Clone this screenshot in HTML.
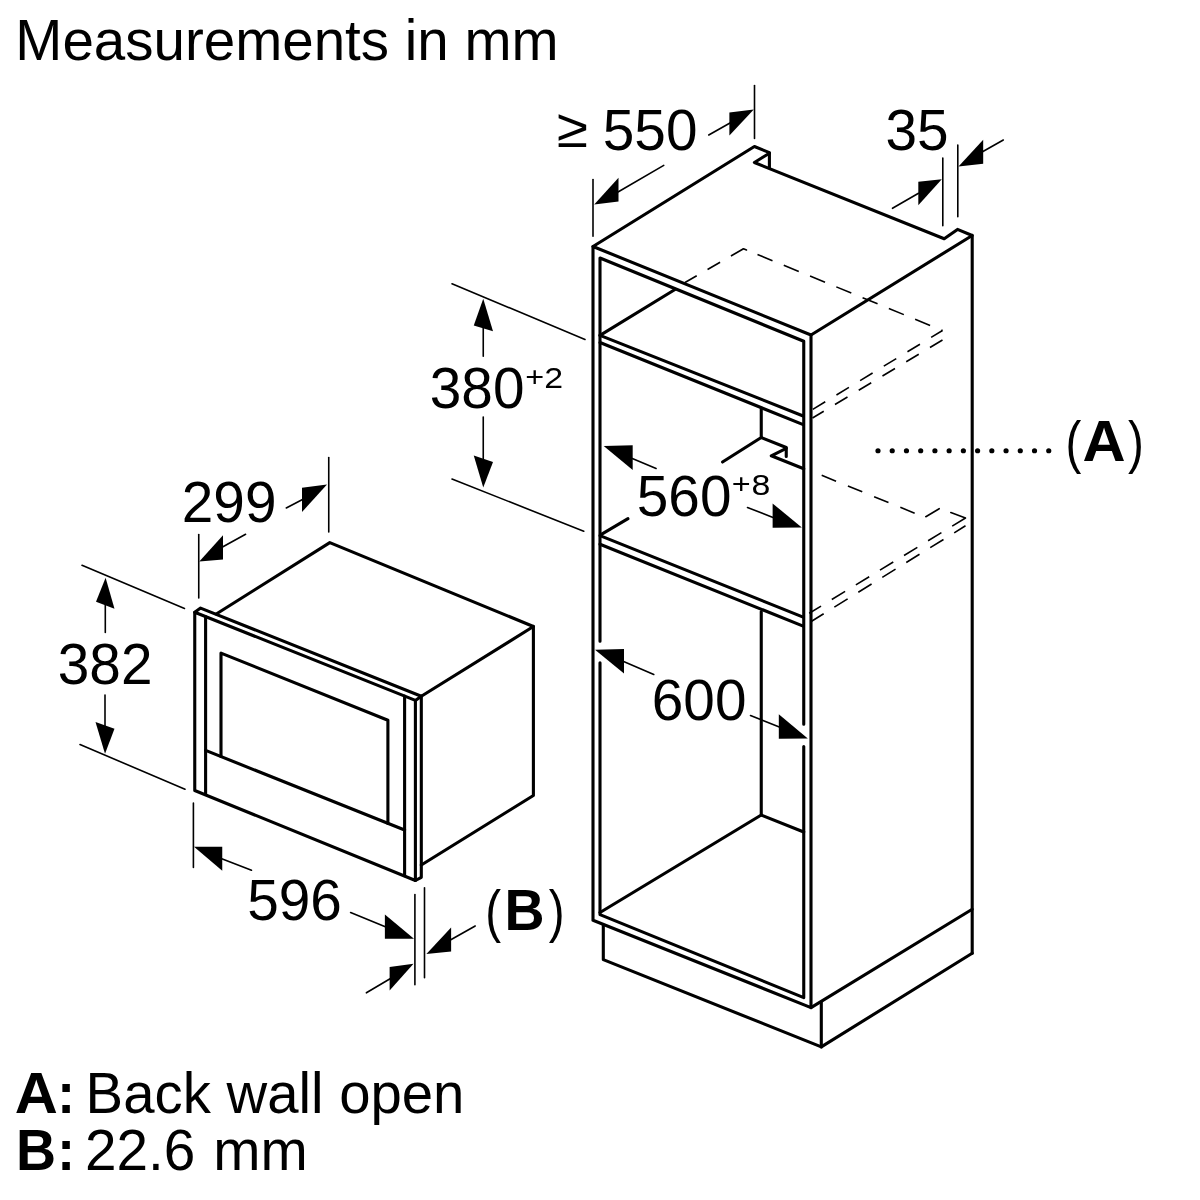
<!DOCTYPE html>
<html>
<head>
<meta charset="utf-8">
<title>Measurements in mm</title>
<style>
html,body{margin:0;padding:0;background:#fff;}
body{width:1200px;height:1200px;overflow:hidden;}
svg{display:block;will-change:transform;}
text{font-family:"Liberation Sans",sans-serif;fill:#000;font-kerning:none;}
.t{font-size:56px;}
.b{font-size:56px;font-weight:bold;}
.p{font-size:27px;}
.q{font-size:29px;}
.K{stroke:#000;stroke-width:3.1;fill:none;stroke-linecap:round;stroke-linejoin:round;}
.n{stroke:#000;stroke-width:1.6;fill:none;stroke-linecap:round;}
.d{stroke:#000;stroke-width:1.6;fill:none;stroke-linecap:butt;}
.a{fill:#000;stroke:none;}
</style>
</head>
<body>
<svg width="1200" height="1200" viewBox="0 0 1200 1200">
<rect x="0" y="0" width="1200" height="1200" fill="#fff"/>
<g id="texts">
<text class="t" transform="translate(15.3 60) scale(1.0094 1.035)">Measurements in mm</text>
<text class="t" transform="translate(557 147.3) scale(1.013 0.975)">≥</text>
<text class="t" transform="translate(602.8 150) scale(1.013 1.035)">550</text>
<text class="t" transform="translate(885.5 150) scale(1.013 1.035)">35</text>
<text class="t" transform="translate(429.8 408) scale(1.013 1.035)">380</text>
<text class="p" transform="translate(525.2 386.0) scale(1.2 1.0)">+</text>
<text class="q" transform="translate(544.3 387.7) scale(1.17 1.04)">2</text>
<text class="t" transform="translate(636.8 515.7) scale(1.013 1.035)">560</text>
<text class="p" transform="translate(731.8 493.4) scale(1.2 1.0)">+</text>
<text class="q" transform="translate(751.5 495.2) scale(1.17 1.04)">8</text>
<text class="t" transform="translate(651.8 720) scale(1.013 1.035)">600</text>
<text class="t" transform="translate(181.8 521.5) scale(1.013 1.035)">299</text>
<text class="t" transform="translate(57.8 684.2) scale(1.013 1.035)">382</text>
<text class="t" transform="translate(247.2 919.6) scale(1.013 1.035)">596</text>
<text class="t" transform="translate(485.3 930.8) scale(0.85 1.01)">(</text>
<text class="b" transform="translate(504.6 930.2) scale(0.99 1.02)">B</text>
<text class="t" transform="translate(548.8 930.8) scale(0.85 1.01)">)</text>
<text class="t" transform="translate(1065.5 461.6) scale(0.85 1.01)">(</text>
<text class="b" transform="translate(1082.4 461.3) scale(1.065 1.022)">A</text>
<text class="t" transform="translate(1127.9 461.6) scale(0.85 1.01)">)</text>
<text class="b" transform="translate(14.8 1113) scale(1.065 1.022)">A</text>
<text class="b" transform="translate(57.2 1113) scale(0.95 1.022)">:</text>
<text class="t" transform="translate(85.6 1113) scale(1.006 1.035)">Back wall open</text>
<text class="b" transform="translate(16.1 1169.7) scale(0.99 1.02)">B</text>
<text class="b" transform="translate(57.2 1169.7) scale(0.95 1.022)">:</text>
<text class="t" transform="translate(84.9 1169.7) scale(1.013 1.035)">22.6</text>
<text class="t" transform="translate(213.3 1169.7) scale(1.013 1.035)">mm</text>
</g>
<g id="cabinet">
<path class="K" d="M593 920.3L593 246.5L811 335L811 1007.6L593 920.3"/>
<path class="K" d="M600 641.3L600 258L803.75 341.3L803.75 724.3"/>
<path class="K" d="M600 662.7L600 914.6L803.75 997.6L803.75 746.6"/>
<path class="K" d="M593 246.5L754.4 146.5L769.4 152.6L769.4 167.8"/>
<path class="K" d="M769.4 153.2L754.4 162.5L944.2 238.7L957.5 229.4L972.2 235.5L972.2 953.2"/>
<path class="K" d="M811 335L972.2 235.5"/>
<path class="K" d="M600 335.4L803.2 416"/>
<path class="K" d="M600 342.5L803.2 424.6"/>
<path class="K" d="M600 335.4L675 289.5"/>
<path class="K" d="M600 535.6L803.2 617.1"/>
<path class="K" d="M600 544.2L803.2 626.1"/>
<path class="K" d="M600.5 534.9L628 518.7"/>
<path class="K" d="M761.25 408.5L761.25 437.5L722.5 462"/>
<path class="K" d="M761.25 437.5L786.25 447.5L786.25 456.5"/>
<path class="K" d="M786.25 448.3L771.25 455.8L803.75 468.8"/>
<path class="K" d="M761.25 611.5L761.25 815L600 912.5"/>
<path class="K" d="M761.25 815L803.75 832"/>
<path class="K" d="M603.3 925L603.3 959.6L821.3 1046.9L972.2 953.2"/>
<path class="K" d="M821.3 1002L821.3 1046.9"/>
<path class="K" d="M811 1007.6L972.2 909.2"/>
</g>
<g id="dashed">
<path class="d" stroke-dasharray="14.5 12.5" d="M743.5 248.8L685 282.5"/>
<path class="d" stroke-dasharray="16.2 12.2" d="M757.5 254.5L942.5 330.5"/>
<path class="n" d="M743.5 248.8L746.5 250"/>
<path class="d" stroke-dasharray="14.6 13.1" stroke-dashoffset="1.3" d="M942.5 330.5L812.5 409.5"/>
<path class="d" stroke-dasharray="14.6 13.1" d="M942.5 340L812.5 418"/>
<path class="d" stroke-dasharray="15.5 12.8" d="M821.7 475.3L914.7 513.2"/>
<path class="n" d="M925.8 516.7L939.2 508.7"/>
<path class="n" d="M950.8 512.5L965.5 518"/>
<path class="d" stroke-dasharray="15.6 12.6" d="M965.5 518L809.2 613.3"/>
<path class="d" stroke-dasharray="15.6 12.6" stroke-dashoffset="2.3" d="M965.5 525.8L810.8 621.7"/>
<path d="M878 450.75L1049 450.75" stroke="#000" stroke-width="5.2" stroke-linecap="round" stroke-dasharray="0 14.229" fill="none"/>
</g>
<g id="microwave">
<path class="K" d="M194.75 612.25L415.4 700.4L415.4 880.5L194.75 790.5Z"/>
<path class="K" d="M194.75 612.25L200.6 608.1L421.3 696.25L421.3 877.3L415.4 880.5"/>
<path class="K" d="M415.4 700.4L421.3 696.25"/>
<path class="K" d="M205.6 616.6L205.6 794.5"/>
<path class="K" d="M404.6 696.1L404.6 875.8"/>
<path class="K" d="M205.6 750.4L404.6 830"/>
<path class="K" d="M221 756.5L221 653.1L387.9 720.2L387.9 823.4"/>
<path class="K" d="M216.25 614L329.8 542.6L533.4 626.5L533.4 795.5L421.3 865"/>
<path class="K" d="M421.3 696.25L533.4 626.5"/>
</g>
<g id="dims">
<path class="n" d="M754.5 85.5L754.5 138.5"/>
<polygon class="a" points="753.75,109.4 729.4,112.5 729.4,135.6"/>
<path class="n" d="M708.75 135L730 123"/>
<path class="n" d="M593 179.5L593 236.25"/>
<polygon class="a" points="594.2,204.6 618.5,177.8 618.5,201.6"/>
<path class="n" d="M618 192L663.75 165.4"/>
<path class="n" d="M942.8 158L942.8 225.8"/>
<path class="n" d="M957.8 145L957.8 216.7"/>
<polygon class="a" points="941.8,179.2 918.3,181.8 918.3,205.3"/>
<path class="n" d="M892.5 208.3L918.5 193.3"/>
<polygon class="a" points="958.5,166.4 983.2,139.8 983.2,163.8"/>
<path class="n" d="M982.5 151.7L1003.3 140"/>
<path class="n" d="M452 283.75L585 339.5"/>
<path class="n" d="M452 479L583.75 531.25"/>
<polygon class="a" points="483.25,298.75 473.75,325.5 493,331.25"/>
<path class="n" d="M483.25 328L483.25 356.25"/>
<polygon class="a" points="483.25,487.5 473.75,455.5 493,462"/>
<path class="n" d="M483.25 417L483.25 460"/>
<polygon class="a" points="603.7,445.9 632.7,445.2 632.7,470"/>
<path class="n" d="M632.3 458.6L656.1 468.5"/>
<polygon class="a" points="801.8,527.6 772.6,503.4 772.6,527.8"/>
<path class="n" d="M747.5 507.5L773 517.5"/>
<polygon class="a" points="595,649.8 624,649 624,673.4"/>
<path class="n" d="M623.6 661.6L653.8 674.4"/>
<polygon class="a" points="807.8,738.6 778.8,714.2 778.8,738.8"/>
<path class="n" d="M750.5 715.5L779.3 726.9"/>
<path class="n" d="M328.75 457.5L328.75 532"/>
<polygon class="a" points="327,484.5 302,487.8 302,512"/>
<path class="n" d="M286.25 508L302.5 499.5"/>
<path class="n" d="M198.75 534.5L198.75 598"/>
<polygon class="a" points="199.3,561.5 223,535.2 223,559.4"/>
<path class="n" d="M222.5 547L245.6 534.3"/>
<path class="n" d="M82 565.25L184.5 608.4"/>
<path class="n" d="M80 744.5L185 789.25"/>
<polygon class="a" points="105.6,577.7 96,601.8 114.5,608.8"/>
<path class="n" d="M105.3 605L105.3 632.5"/>
<polygon class="a" points="105,753.75 95.5,722 114.5,728.75"/>
<path class="n" d="M105 695L105 726"/>
<path class="n" d="M193.4 803L193.4 867.4"/>
<polygon class="a" points="194,846.8 222.25,846.8 222.25,870.7"/>
<path class="n" d="M221.75 858.8L251.5 870.25"/>
<polygon class="a" points="414,938.7 384.9,914.4 384.9,938.8"/>
<path class="n" d="M350.6 912.6L385.3 926.7"/>
<path class="n" d="M414.9 894.6L414.9 984.7"/>
<path class="n" d="M424.5 887.7L424.5 977.8"/>
<polygon class="a" points="426.4,954.1 451.1,927.5 451.1,951.5"/>
<path class="n" d="M450.8 939.7L475.2 926"/>
<polygon class="a" points="413.5,963.7 389.6,967 389.6,990.6"/>
<path class="n" d="M366.4 992.8L390.1 978.7"/>
</g>
</svg>
</body>
</html>
